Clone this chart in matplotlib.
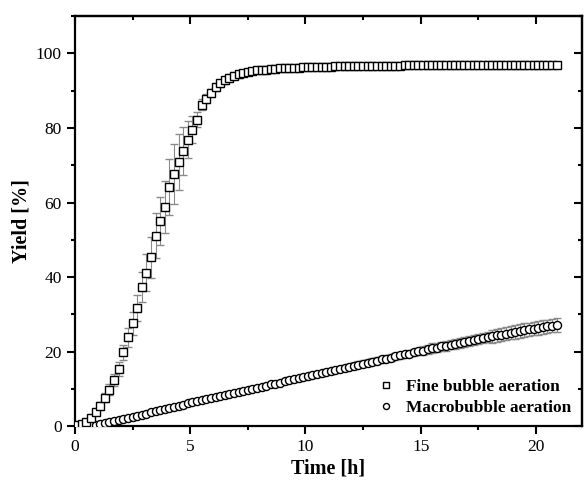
import numpy as np
import matplotlib
matplotlib.use('Agg')
import matplotlib.pyplot as plt
from matplotlib.ticker import MultipleLocator

plt.rcParams['font.family'] = 'Liberation Serif'

# sampling times [h]
time_h = np.round(np.arange(0.1, 21.0, 0.2), 1)

fine_yield = [
    0.2, 0.6, 1.2, 2.3, 3.8,
    5.5, 7.6, 9.8, 12.4, 15.3,
    19.8, 23.8, 27.6, 31.6, 37.3,
    41.2, 45.3, 51.1, 55.1, 58.9,
    64.1, 67.7, 71.0, 73.9, 76.9,
    79.6, 82.2, 86.2, 87.8, 89.4,
    90.9, 92.0, 92.8, 93.5, 94.0,
    94.4, 94.8, 95.1, 95.3, 95.5,
    95.6, 95.7, 95.8, 95.9, 96.0,
    96.1, 96.1, 96.2, 96.2, 96.3,
    96.3, 96.4, 96.4, 96.5, 96.5,
    96.5, 96.6, 96.6, 96.6, 96.6,
    96.7, 96.7, 96.7, 96.7, 96.7,
    96.7, 96.7, 96.7, 96.7, 96.7,
    96.7, 96.8, 96.8, 96.8, 96.8,
    96.8, 96.8, 96.8, 96.8, 96.8,
    96.8, 96.8, 96.8, 96.8, 96.8,
    96.9, 96.9, 96.9, 96.9, 96.9,
    96.9, 96.9, 96.9, 96.9, 96.9,
    96.9, 96.9, 96.9, 96.9, 96.9,
    96.9, 96.9, 96.9, 97.0, 97.0,
]
fine_err = [
    0.2, 0.3, 0.4, 0.6, 0.8,
    1.0, 1.2, 1.4, 1.6, 1.8,
    2.0, 2.5, 3.0, 3.5, 4.0,
    5.0, 5.5, 6.0, 6.5, 7.0,
    7.5, 8.0, 7.5, 6.5, 5.0,
    3.5, 2.0, 1.5, 1.2, 1.0,
    1.0, 1.0, 1.0, 0.9, 0.9,
    0.9, 0.9, 0.8, 0.8, 0.8,
] + [0.7] * 65

macro_yield = [
    0.0, 0.05, 0.1, 0.25, 0.4,
    0.6, 0.8, 1.0, 1.3, 1.6,
    1.9, 2.2, 2.5, 2.8, 3.1,
    3.4, 3.7, 4.0, 4.3, 4.6,
    4.9, 5.2, 5.5, 5.8, 6.1,
    6.4, 6.7, 6.9, 7.2, 7.5,
    7.8, 8.1, 8.4, 8.6, 8.9,
    9.2, 9.5, 9.8, 10.0, 10.3,
    10.6, 10.9, 11.2, 11.4, 11.7,
    12.0, 12.3, 12.6, 12.8, 13.1,
    13.4, 13.7, 14.0, 14.2, 14.5,
    14.8, 15.1, 15.4, 15.6, 15.9,
    16.2, 16.5, 16.8, 17.0, 17.3,
    17.6, 17.9, 18.1, 18.4, 18.7,
    19.0, 19.3, 19.5, 19.8, 20.1,
    20.3, 20.6, 20.9, 21.1, 21.4,
    21.6, 21.9, 22.1, 22.4, 22.6,
    22.9, 23.1, 23.4, 23.6, 23.9,
    24.1, 24.4, 24.6, 24.8, 25.1,
    25.3, 25.5, 25.8, 26.0, 26.2,
    26.4, 26.6, 26.8, 27.0, 27.2,
]
macro_err = (
    [0.1] * 15 + [0.3] * 15 + [0.5] * 15 + [0.7] * 15
    + [0.9] * 15 + [1.3] * 15 + [1.8] * 15
)

fig = plt.figure(figsize=(5.85, 4.91), dpi=100)
ax = fig.add_axes([0.128, 0.132, 0.867, 0.835])

ax.errorbar(time_h, macro_yield, yerr=macro_err, fmt='o', ms=5.8,
            mfc='white', mec='black', mew=1.0, ecolor='#8a8a8a',
            elinewidth=0.8, capsize=3, capthick=0.8,
            label='Macrobubble aeration', zorder=3)
ax.errorbar(time_h, fine_yield, yerr=fine_err, fmt='s', ms=5.8,
            mfc='white', mec='black', mew=1.0, ecolor='#8a8a8a',
            elinewidth=0.8, capsize=3, capthick=0.8,
            label='Fine bubble aeration', zorder=4)

ax.set_xlim(0, 22)
ax.set_ylim(0, 110)
ax.xaxis.set_major_locator(MultipleLocator(5))
ax.xaxis.set_minor_locator(MultipleLocator(2.5))
ax.yaxis.set_major_locator(MultipleLocator(20))
ax.yaxis.set_minor_locator(MultipleLocator(10))
ax.tick_params(which='both', direction='out', width=1.5, labelsize=12.5)
ax.tick_params(which='major', length=6)
ax.tick_params(which='minor', length=3)
for sp in ax.spines.values():
    sp.set_linewidth(1.6)

# mirrored ticks pointing inward on top and right
top = ax.secondary_xaxis('top')
top.xaxis.set_major_locator(MultipleLocator(5))
top.xaxis.set_minor_locator(MultipleLocator(2.5))
top.tick_params(which='both', direction='in', width=1.5, labeltop=False)
top.tick_params(which='major', length=6)
top.tick_params(which='minor', length=3)
top.spines['top'].set_linewidth(1.6)
right = ax.secondary_yaxis('right')
right.yaxis.set_major_locator(MultipleLocator(20))
right.yaxis.set_minor_locator(MultipleLocator(10))
right.tick_params(which='both', direction='in', width=1.5, labelright=False)
right.tick_params(which='major', length=6)
right.tick_params(which='minor', length=3)
right.spines['right'].set_linewidth(1.6)

ax.set_xlabel('Time [h]', fontsize=14.5, fontweight='bold', labelpad=2)
ax.set_ylabel('Yield [%]', fontsize=14.5, fontweight='bold', labelpad=3)

handles, labels = ax.get_legend_handles_labels()
handles = [h[0] for h in handles][::-1]
labels = labels[::-1]
ax.legend(handles, labels, loc='lower right', frameon=False,
          prop={'weight': 'bold', 'size': 12.4}, handletextpad=0.7,
          handlelength=1.0, borderaxespad=0.2, labelspacing=0.3,
          markerscale=0.75)

fig.savefig('out.png', dpi=100)
